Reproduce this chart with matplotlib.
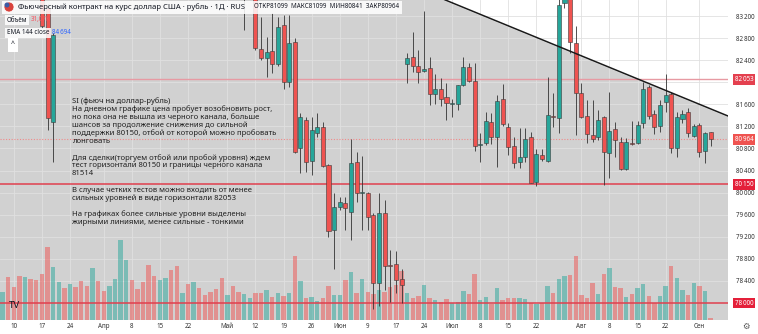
import matplotlib
matplotlib.use("Agg")
import matplotlib.pyplot as plt
import matplotlib.transforms as mtransforms
from matplotlib.patches import Ellipse, Rectangle
import numpy as np

plt.rcParams['font.family'] = ['Noto Sans', 'DejaVu Sans']

# ---- data (day index = trading day, 0 = 6 March) ----
date_ticks = [2, 7, 12, 18, 23, 28, 33, 40, 45, 50, 55, 60, 65, 70, 75, 80, 85, 90, 95, 103, 108, 113, 118, 124]
date_labels = ['10', '17', '24', 'Апр', '8', '15', '22', 'Май', '12', '19', '26', 'Июн',
               '9', '17', '24', 'Июл', '8', '15', '22', 'Авг', '8', '15', '22', 'Сен']

price_ticks = [78400, 78800, 79200, 79600, 80000, 80400, 80800, 81200, 81600, 82000, 82400, 82800, 83200]

# candles that are visible inside the price window
cdl_day = [7, 8, 9, 43, 45] + list(range(46, 127))
cdl_open = [83700, 83350, 81285, 83800, 83650,
            82597, 82434, 82566, 82330, 83037, 81999, 82729, 80814, 81316, 80578,
            81086, 81184, 80506, 79323, 79745, 79807, 79655, 80549, 79990, 79988,
            79595, 78368, 79637, 78680, 78707, 78429, 82325, 82452, 82300, 82204,
            82253, 81781, 81872, 81727, 81600, 81606, 81950, 82271, 82029, 80863,
            80894, 81285, 81002, 81691, 81184, 80850, 80560, 80651, 81002, 80198,
            80682, 80578, 81376, 81347, 83430, 83600, 82705, 81811, 81394, 81044,
            81002, 81365, 80724, 81147, 80923, 80423, 80894, 80894, 81256, 81920,
            81419, 81213, 81636, 81781, 80803, 81329, 81455, 81026, 81225, 80760, 81099]
cdl_high = [83800, 83420, 82900, 84300, 83800,
            83188, 82825, 83249, 83188, 83218, 83218, 82800, 81443, 81376, 81370,
            81437, 81285, 80519, 79988, 79926, 79926, 80966, 80742, 80664, 80012,
            79626, 79988, 79866, 78960, 78947, 78611, 82524, 82916, 82584, 83296,
            82463, 82149, 82071, 81992, 81691, 81950, 82463, 82343, 82343, 81086,
            81466, 81437, 81769, 81968, 81256, 81013, 81165, 81165, 81104, 80785,
            80785, 82100, 81800, 83560, 83800, 83700, 83019, 81992, 81678, 81678,
            81497, 81389, 81829, 81285, 81002, 80995, 81303, 81303, 82010, 81950,
            81497, 81678, 82149, 81829, 81466, 81497, 81528, 81244, 81256, 81104, 81099]
cdl_low = [82990, 81135, 80560, 82947, 82584,
           82403, 82100, 82162, 82294, 81872, 81908, 80718, 80361, 80379, 80320,
           81013, 80470, 79202, 78611, 79685, 79323, 79142, 79836, 79323, 79323,
           77900, 77950, 78236, 78018, 78186, 78000, 81992, 82191, 81992, 82191,
           81588, 81606, 81570, 81316, 81376, 81497, 81932, 82005, 80760, 80550,
           80863, 80881, 80470, 81207, 80682, 80441, 80441, 80560, 80169, 80120,
           80578, 80555, 81194, 81075, 83339, 82524, 81044, 81352, 80894, 80923,
           80953, 80138, 80260, 80651, 80410, 80410, 80863, 80881, 81165, 81340,
           81063, 81104, 81466, 80713, 80651, 81260, 81002, 81008, 80651, 80531, 80841]
cdl_close = [83010, 81350, 82856, 84100, 82615,
             82434, 82554, 82325, 83007, 81999, 82705, 80742, 81365, 80560, 81135,
             81189, 80488, 79310, 79745, 79836, 79716, 80531, 79999, 79998, 79565,
             78368, 79626, 78676, 78670, 78417, 78326, 82434, 82300, 82191, 82240,
             81781, 81872, 81691, 81618, 81612, 81945, 82271, 82029, 80850, 80876,
             81298, 81002, 81666, 81238, 80832, 80542, 80640, 80966, 80180, 80700,
             80604, 81401, 81365, 83399, 83600, 82735, 81800, 81365, 81057, 80966,
             81316, 80742, 81117, 80953, 80423, 80923, 80881, 81225, 81878, 81389,
             81184, 81588, 81769, 80803, 81376, 81425, 81086, 81213, 80742, 81075, 80964]

# volume, thousand contracts, days 0..126
vol_k = [374, 576, 450, 594, 580, 558, 544, 621, 981, 716,
         517, 428, 486, 441, 531, 463, 702, 527, 392, 459,
         558, 1080, 810, 544, 414, 509, 738, 594, 540, 567,
         679, 733, 369, 486, 513, 432, 338, 382, 414, 571,
         333, 459, 378, 355, 293, 369, 365, 405, 306, 369,
         320, 365, 860, 531, 293, 315, 261, 293, 463, 342,
         333, 540, 652, 360, 554, 374, 347, 405, 378, 450,
         468, 662, 369, 301, 324, 473, 301, 266, 247, 288,
         225, 243, 387, 351, 621, 266, 315, 220, 432, 266,
         293, 293, 301, 288, 234, 212, 234, 459, 360, 560,
         590, 608, 864, 333, 301, 504, 351, 621, 702, 450,
         436, 306, 351, 428, 482, 324, 230, 324, 455, 729,
         567, 405, 338, 495, 455, 392, 31.07]
vol_dir = ("u d d d u d d d d u  u d u d d d u d d u  u u u d d d d d u u  "
           "d d u d u d d d d d  u d d u u d d u d u  d u d u d u u d d u  "
           "u d u d u d d u d d  d d u d d u d u d d  u u u d d u u d u d  "
           "d d u u d u d u d u  u d d d d d u d u d  d u d u u d d u u d  "
           "u u d u d u d").split()

# drawn levels / channel
trend_day = [81.4, 126.8]
trend_price = [83381, 81484]
strong_levels = [80150, 78000]
weak_levels = [82053]
last_price = 80964

note_lines = [
    "SI (фьюч на доллар-рубль)",
    "На дневном графике цена пробует возобновить рост,",
    "но пока она не вышла из черного канала, больше",
    "шансов за продолжение снижения до сильной",
    "поддержки 80150, отбой от которой можно пробовать",
    "лонговать",
    "",
    "Для сделки(торгуем отбой или пробой уровня) ждем",
    "тест горизонтали 80150 и границы черного канала",
    "81514",
    "",
    "В случае четких тестов можно входить от менее",
    "сильных уровней в виде горизонтали 82053",
    "",
    "На графиках более сильные уровни выделены",
    "жирными линиями, менее сильные - тонкими",
]

UP = '#26a69a'
DOWN = '#ef5350'

W, H = 758, 334
fig = plt.figure(figsize=(W / 100, H / 100), dpi=100)
fig.patch.set_facecolor('white')
rect = [0, 14 / H, 728 / W, 320 / H]
xlim = (-0.46, 129.1)
ylim = (77692, 83490)

ax_bg = fig.add_axes(rect)
vax = fig.add_axes(rect, sharex=ax_bg)
ax = fig.add_axes(rect, sharex=ax_bg, sharey=ax_bg)
ax_bg.set_zorder(0)
vax.set_zorder(1)
ax.set_zorder(2)
vax.patch.set_visible(False)
ax.patch.set_visible(False)
for a in (ax_bg, vax, ax):
    for s in a.spines.values():
        s.set_visible(False)

ax_bg.set_xlim(*xlim)
ax_bg.set_ylim(*ylim)

# grey channel shape, white above the black line
ax_bg.set_facecolor('#d1d1d1')
slope = (trend_price[1] - trend_price[0]) / (trend_day[1] - trend_day[0])
xs = np.array(xlim)
ys = trend_price[0] + slope * (xs - trend_day[0])
ax_bg.fill_between(xs, ys, ylim[1] + 500, color='white', zorder=0.2)
ax_bg.set_xticks(date_ticks)
ax_bg.set_yticks(price_ticks)
ax_bg.grid(True, color='#e0e0e0', lw=0.6, zorder=0.5)
ax_bg.tick_params(left=False, bottom=False, labelleft=False, labelbottom=False)

# volume
days = np.arange(len(vol_k))
vcol = [UP if d == 'u' else DOWN for d in vol_dir]
vax.bar(days, vol_k, width=0.78, color=vcol, alpha=0.5, linewidth=0)
vax.set_ylim(0, 4320)
vax.set_xlim(*xlim)
vax.axis('off')

# level lines
for lv in weak_levels:
    ax.axhline(lv, color='#e79aa3', lw=1.0, zorder=1)
for lv in strong_levels:
    ax.axhline(lv, color='#e0404e', lw=1.1, zorder=1)
ax.axhline(last_price, color='#f08a8a', lw=0.8, ls=(0, (1, 1.5)), zorder=1)

# candles
o = np.array(cdl_open)
c = np.array(cdl_close)
ccol = [UP if cc >= oo else DOWN for oo, cc in zip(o, c)]
ax.vlines(cdl_day, cdl_low, cdl_high, color='#333333', lw=0.6, zorder=2)
body_low = np.minimum(o, c)
body_h = np.maximum(np.abs(c - o), 15)
ax.bar(cdl_day, body_h, bottom=body_low, width=0.72, color=ccol,
       edgecolor='#3a3a3a', linewidth=0.4, zorder=3)

# channel border
ax.plot(xs, ys, color='#1a1a1a', lw=1.1, zorder=4)

ax.set_xlim(*xlim)
ax.set_ylim(*ylim)

# axes labels
ax.yaxis.tick_right()
ax.set_yticks(price_ticks)
ax.set_yticklabels([('' if p == 82000 else f"{p:,}".replace(',', '\u2009')) for p in price_ticks])
ax.tick_params(axis='y', length=0, pad=6, labelsize=4.5, labelcolor='#333333')
ax.set_xticks(date_ticks)
ax.set_xticklabels(date_labels)
ax.tick_params(axis='x', length=0, pad=2.5, labelsize=4.5, labelcolor='#333333')

# price tags on the scale
btrans = mtransforms.blended_transform_factory(ax.transAxes, ax.transData)
for lv, fc in [(82053, '#e4404f'), (last_price, '#ef5350'), (80150, '#e4203a'), (78000, '#e4203a')]:
    ax.text(744 / 728, lv, f"{lv:,}".replace(',', '\u2009'), transform=btrans, ha='center',
            va='center', fontsize=4.5, color='white', zorder=6, clip_on=False,
            bbox=dict(boxstyle='square,pad=0.3', fc=fc, ec='none'))

# note text
for i, line in enumerate(note_lines):
    if line:
        fig.text(72 / W, 1 - (101 + i * 8.1) / H, line, fontsize=5.5, color='#222222',
                 va='center', ha='left', zorder=10)

# legend header
fig.add_artist(Rectangle((2 / W, 1 - 14 / H), 400 / W, 13 / H, transform=fig.transFigure,
                         fc='white', ec='none', alpha=0.85, zorder=9))
hdr_box = dict(boxstyle='square,pad=0.25', fc='white', ec='none', alpha=0.85)
fig.text(18 / W, 1 - 7 / H,
         "Фьючерсный контракт на курс доллар США · рубль · 1Д · RUS",
         fontsize=5.5, color='#131722', va='center', ha='left', zorder=10)
fig.text(254 / W, 1 - 7 / H,
         "ОТКР81099  МАКС81099  МИН80841  ЗАКР80964",
         fontsize=4.5, color='#131722', va='center', ha='left', zorder=10)
fig.add_artist(Ellipse((9 / W, 1 - 7 / H), 10 / W, 10 / H, transform=fig.transFigure,
                       fc='#d8423c', ec='white', lw=0.5, zorder=11))
fig.add_artist(Ellipse((7 / W, 1 - 5 / H), 5 / W, 5 / H, transform=fig.transFigure,
                       fc='#3b5ba5', ec='none', zorder=12))
fig.text(7 / W, 1 - 20 / H, "Объём", fontsize=4.5, color='#131722', va='center',
         ha='left', bbox=hdr_box, zorder=10)
fig.text(31 / W, 1 - 20 / H, "31,07K", fontsize=4.5, color='#f7525f', va='center',
         ha='left', zorder=10)
fig.text(7 / W, 1 - 33 / H, "EMA 144 close", fontsize=4.5, color='#131722', va='center',
         ha='left', bbox=hdr_box, zorder=10)
fig.text(52 / W, 1 - 33 / H, "84\u2009694", fontsize=4.5, color='#2962ff', va='center',
         ha='left', zorder=10)
fig.text(13 / W, 1 - 45 / H, "^", fontsize=5, color='#131722', va='center', ha='center',
         bbox=dict(boxstyle='square,pad=0.5', fc='white', ec='none'), zorder=10)

# logo and settings glyph
fig.text(15 / W, 1 - 305 / H, "TV", fontsize=7, fontweight='bold', color='#131722',
         va='center', ha='center', zorder=10)
fig.text(746 / W, 1 - 326 / H, "⚙", fontsize=6, color='#555555', va='center',
         ha='center', family='DejaVu Sans', zorder=10)

fig.savefig('out.png', dpi=100, facecolor='white')
